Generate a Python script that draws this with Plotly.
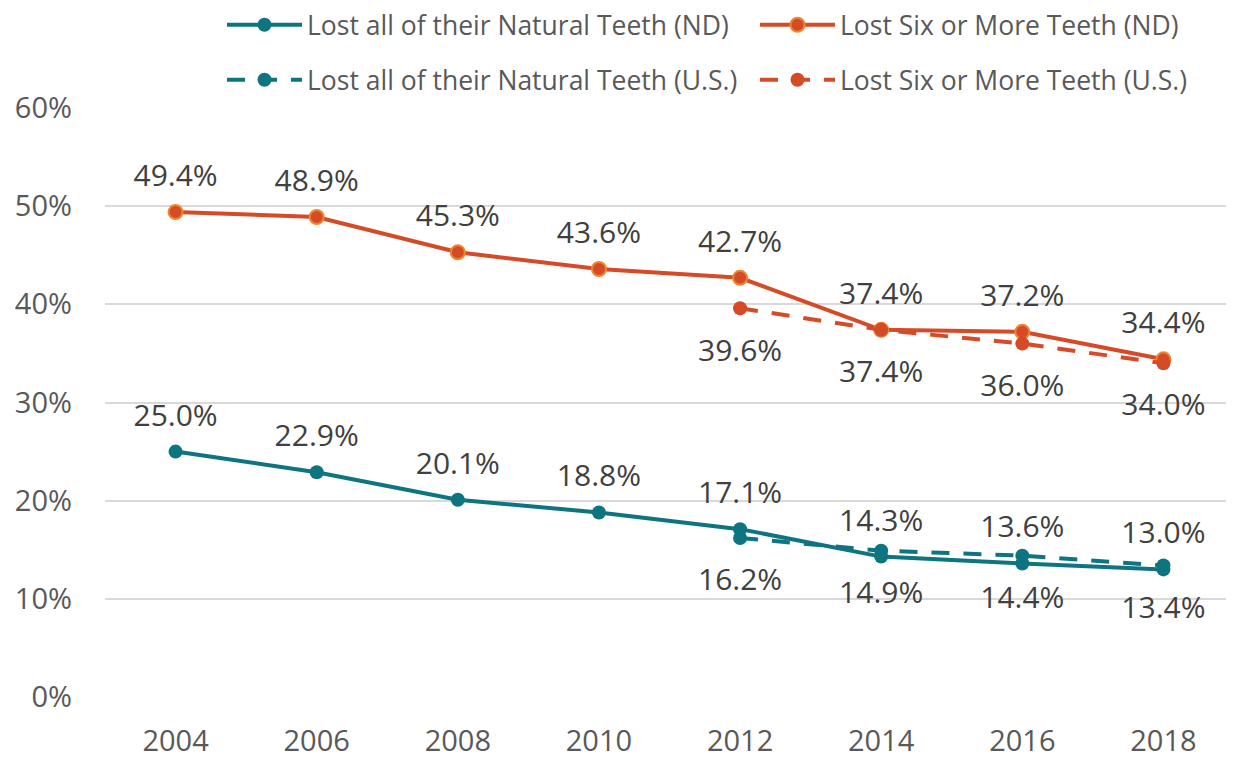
import plotly.graph_objects as go

years = ["2004", "2006", "2008", "2010", "2012", "2014", "2016", "2018"]
nd_all = [25.0, 22.9, 20.1, 18.8, 17.1, 14.3, 13.6, 13.0]
nd_six = [49.4, 48.9, 45.3, 43.6, 42.7, 37.4, 37.2, 34.4]
us_years = ["2012", "2014", "2016", "2018"]
us_all = [16.2, 14.9, 14.4, 13.4]
us_six = [39.6, 37.4, 36.0, 34.0]

TEAL = "#0E7480"
ORANGE = "#D54B27"
ORANGE_EDGE = "#F0852D"
FONT = "Open Sans"
LABEL_COLOR = "#404040"
AXIS_COLOR = "#595959"
DASH = "18px,14px"

# page body has an 8px margin; the figure is shrunk by 8px so it fills the window
W, H = 1226, 752

fig = go.Figure()
fig.add_trace(go.Scatter(x=years, y=nd_all, mode="lines+markers",
                         name="Lost all of their Natural Teeth (ND)",
                         line=dict(color=TEAL, width=4),
                         marker=dict(color=TEAL, size=14), legend="legend"))
fig.add_trace(go.Scatter(x=years, y=nd_six, mode="lines+markers",
                         name="Lost Six or More Teeth (ND)",
                         line=dict(color=ORANGE, width=4),
                         marker=dict(color=ORANGE, size=14, line=dict(color=ORANGE_EDGE, width=2)),
                         legend="legend"))
fig.add_trace(go.Scatter(x=us_years, y=us_all, mode="lines+markers",
                         name="Lost all of their Natural Teeth (U.S.)",
                         line=dict(color=TEAL, width=4, dash=DASH),
                         marker=dict(color=TEAL, size=14), legend="legend2"))
fig.add_trace(go.Scatter(x=us_years, y=us_six, mode="lines+markers",
                         name="Lost Six or More Teeth (U.S.)",
                         line=dict(color=ORANGE, width=4, dash=DASH),
                         marker=dict(color=ORANGE, size=14), legend="legend2"))

# data labels: ND above the points, U.S. below (invisible markers set the offset)
label_font = dict(family=FONT, size=30, color=LABEL_COLOR)
for xs, vals, pos, msize in [(years, nd_all, "top center", 28),
                             (years, nd_six, "top center", 28),
                             (us_years, us_all, "bottom center", 46),
                             (us_years, us_six, "bottom center", 46)]:
    fig.add_trace(go.Scatter(x=xs, y=vals, mode="markers+text",
                             text=[f"{v:.1f}%" for v in vals], textposition=pos,
                             textfont=label_font, marker=dict(size=msize, opacity=0),
                             showlegend=False, hoverinfo="skip", cliponaxis=False))

legend_common = dict(orientation="h", xref="container", yref="container",
                     x=214 / W, xanchor="left", yanchor="middle",
                     itemwidth=75, entrywidth=443,
                     font=dict(family=FONT, size=26.5, color=AXIS_COLOR),
                     bgcolor="rgba(0,0,0,0)")

fig.update_layout(
    width=W, height=H,
    margin=dict(l=97, r=0, t=100, b=63, autoexpand=False),
    plot_bgcolor="white", paper_bgcolor="white",
    font=dict(family=FONT, color=AXIS_COLOR),
    legend=dict(legend_common, y=1 - 17 / H),
    legend2=dict(legend_common, y=1 - 72 / H),
    xaxis=dict(type="category", range=[-0.5, 7.5], showgrid=False, showline=False,
               ticks="", tickfont=dict(family=FONT, size=29, color=AXIS_COLOR),
               ticklabelstandoff=24),
    yaxis=dict(range=[0, 60], dtick=10, ticksuffix="%", showgrid=True,
               gridcolor="#D9D9D9", gridwidth=1.5, zeroline=False, showline=False,
               tickfont=dict(family=FONT, size=29, color=AXIS_COLOR),
               ticklabelstandoff=32),
)

fig.write_html("out.html")
